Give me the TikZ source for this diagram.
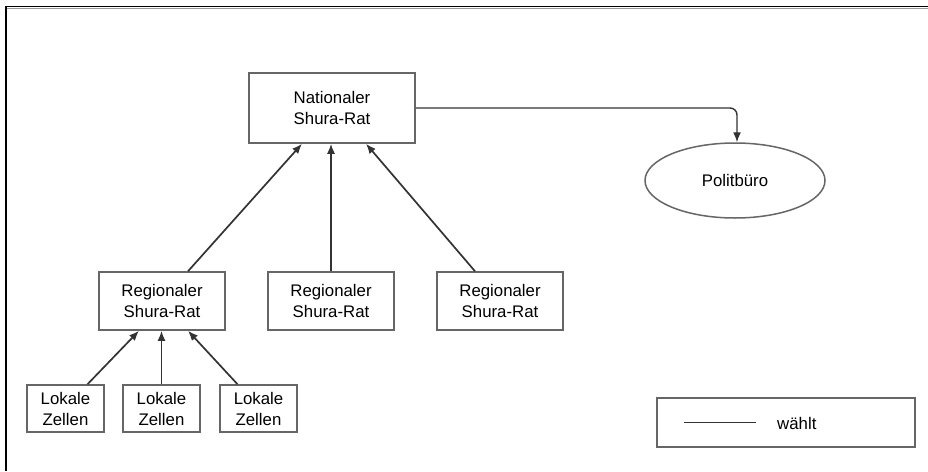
\documentclass[tikz,border=0pt]{standalone}
\usepackage{fontspec}
\setmainfont{Liberation Sans}
\usetikzlibrary{arrows.meta,shapes.geometric}
\begin{document}
\begin{tikzpicture}[x=1pt,y=-1pt,
  box/.style={draw=black!60,line width=1.5pt,fill=white,inner sep=0pt,
    align=center,font=\fontsize{16.8}{21}\selectfont,text=black},
  conn/.style={draw=black!80,line width=1.7pt,-{Latex[length=10pt,width=8pt]}},
]
\useasboundingbox (0,0) rectangle (928,471);
\fill[white] (0,0) rectangle (928,471);
% frame
\draw[black!40,line width=1.2pt] (7,8.5) -- (928,8.5);
\draw[black,line width=1.4pt] (6,6.5) -- (928,6.5);
\draw[black,line width=1.4pt] (6,6) -- (6,471);

\node[box,minimum width=166pt,minimum height=70pt] (nat) at (332,108) {Nationaler\\Shura-Rat};
\node[box,ellipse,minimum width=180pt,minimum height=75pt] (pol) at (735,180.5) {Politbüro};

\node[box,minimum width=126pt,minimum height=58pt] (r1) at (162,301) {Regionaler\\Shura-Rat};
\node[box,minimum width=126pt,minimum height=58pt] (r2) at (331,301) {Regionaler\\Shura-Rat};
\node[box,minimum width=126pt,minimum height=58pt] (r3) at (500,301) {Regionaler\\Shura-Rat};

\node[box,minimum width=77pt,minimum height=47pt] (l1) at (65.5,408.5) {Lokale\\Zellen};
\node[box,minimum width=77pt,minimum height=47pt] (l2) at (161.5,408.5) {Lokale\\Zellen};
\node[box,minimum width=77pt,minimum height=47pt] (l3) at (258.5,408.5) {Lokale\\Zellen};

\draw[conn] ([xshift=26pt]r1.north) -- ([xshift=-30pt]nat.south);
\draw[conn] (r2.north) -- ([xshift=-1pt]nat.south);
\draw[conn] ([xshift=-25pt]r3.north) -- ([xshift=34pt]nat.south);

\draw[conn] ([xshift=22pt]l1.north) -- ([xshift=-23pt]r1.south);
\draw[conn] (l2.north) -- ([xshift=-0.5pt]r1.south);
\draw[conn] ([xshift=-21pt]l3.north) -- ([xshift=26pt]r1.south);

\draw[conn,line width=1.4pt,rounded corners=7pt] (nat.east) -| ([xshift=2pt]pol.north);

% legend
\node[box,minimum width=258pt,minimum height=49pt] (leg) at (786,422.5) {};
\coordinate (la) at (684,422.5);
\coordinate (lb) at (756,422.5);
\draw[draw=black!80,line width=1.6pt] (la) -- (lb);
\node[font=\fontsize{16.8}{21}\selectfont,text=black,anchor=west,inner sep=0pt] (lt) at (777,423) {wählt};
\end{tikzpicture}
\end{document}
